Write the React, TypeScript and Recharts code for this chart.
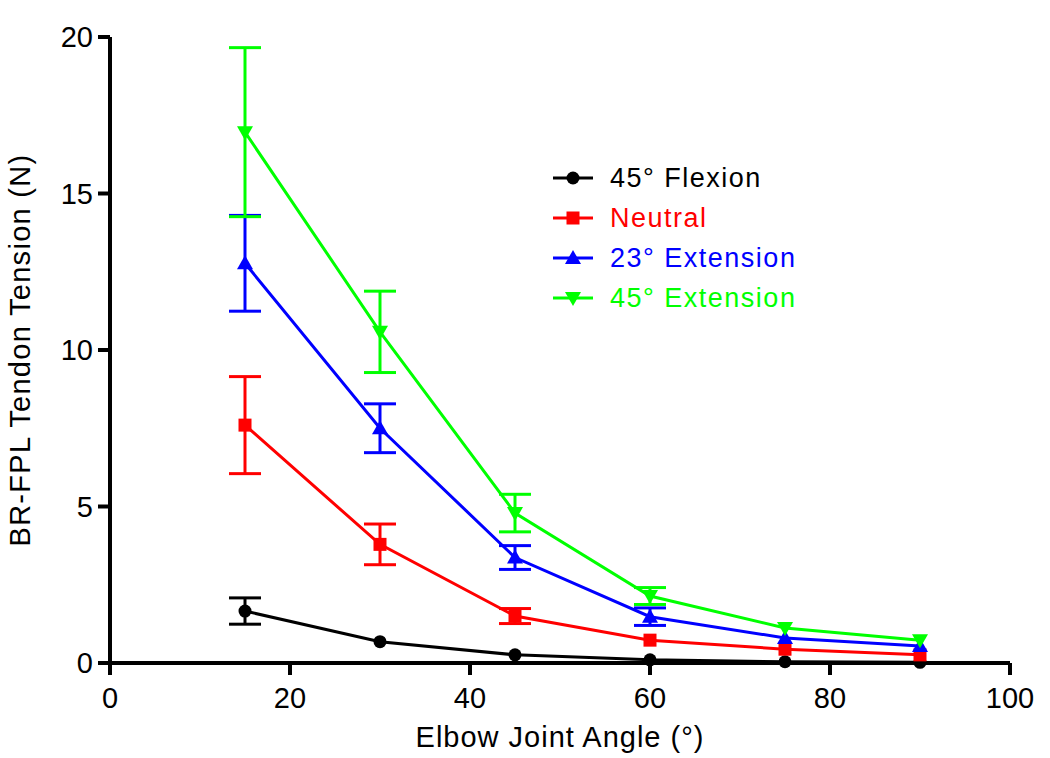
import { LineChart, Line, XAxis, YAxis, ErrorBar, Legend } from 'recharts'

const angles = [15, 30, 45, 60, 75, 90]
const flexion45 = [1.66, 0.68, 0.26, 0.1, 0.04, 0.02]
const flexion45Err = [0.42, 0, 0, 0, 0, 0]
const neutral = [7.6, 3.79, 1.5, 0.73, 0.44, 0.26]
const neutralErr = [1.55, 0.65, 0.24, 0, 0, 0]
const extension23 = [12.77, 7.5, 3.37, 1.48, 0.8, 0.54]
const extension23Err = [1.53, 0.78, 0.38, 0.28, 0, 0]
const extension45 = [16.96, 10.58, 4.79, 2.14, 1.12, 0.73]
const extension45Err = [2.7, 1.3, 0.6, 0.27, 0, 0]
const xTicks = [0, 20, 40, 60, 80, 100]
const yTicks = [0, 5, 10, 15, 20]

const FONT = 'Arial, "Liberation Sans", Helvetica, sans-serif'

type Shape = 'circle' | 'square' | 'up' | 'down'

const series: { key: string; name: string; color: string; shape: Shape }[] = [
  { key: 'flex45', name: '45° Flexion', color: '#000000', shape: 'circle' },
  { key: 'neutral', name: 'Neutral', color: '#ff0000', shape: 'square' },
  { key: 'ext23', name: '23° Extension', color: '#0000ff', shape: 'up' },
  { key: 'ext45', name: '45° Extension', color: '#00ff00', shape: 'down' },
]

const data = angles.map((a, i) => ({
  angle: a,
  flex45: flexion45[i],
  flex45Err: flexion45Err[i],
  neutral: neutral[i],
  neutralErr: neutralErr[i],
  ext23: extension23[i],
  ext23Err: extension23Err[i],
  ext45: extension45[i],
  ext45Err: extension45Err[i],
}))

function Marker({ cx, cy, shape, color }: { cx: number; cy: number; shape: Shape; color: string }) {
  if (shape === 'circle') return <circle cx={cx} cy={cy} r={6.5} fill={color} />
  if (shape === 'square') return <rect x={cx - 6.5} y={cy - 6.5} width={13} height={13} fill={color} />
  if (shape === 'up')
    return <polygon points={`${cx},${cy - 8} ${cx - 8},${cy + 6} ${cx + 8},${cy + 6}`} fill={color} />
  return <polygon points={`${cx},${cy + 8} ${cx - 8},${cy - 6} ${cx + 8},${cy - 6}`} fill={color} />
}

function LegendBox() {
  return (
    <div style={{ fontFamily: FONT }}>
      {series.map((s) => (
        <div key={s.key} style={{ display: 'flex', alignItems: 'center', height: 40 }}>
          <svg width={40} height={20}>
            <line x1={0} x2={40} y1={10} y2={10} stroke={s.color} strokeWidth={3} />
            <Marker cx={20} cy={10} shape={s.shape} color={s.color} />
          </svg>
          <span style={{ marginLeft: 17, color: s.color, fontSize: 27, letterSpacing: 1.5 }}>{s.name}</span>
        </div>
      ))}
    </div>
  )
}

export default function App() {
  return (
    <div style={{ position: 'fixed', left: 0, top: 0, background: '#fff' }}>
      <LineChart width={1050} height={758} data={data} margin={{ top: 37, right: 40, bottom: 0, left: 0 }}>
        <XAxis
          dataKey="angle"
          type="number"
          domain={[0, 100]}
          ticks={xTicks}
          height={95}
          tickSize={12}
          tickMargin={12}
          axisLine={{ stroke: '#000', strokeWidth: 4 }}
          tickLine={{ stroke: '#000', strokeWidth: 4 }}
          tick={{ fill: '#000', fontSize: 29, fontFamily: FONT }}
          label={{
            value: 'Elbow Joint Angle (°)',
            position: 'insideBottom',
            offset: 11,
            fill: '#000',
            fontSize: 29,
            fontFamily: FONT,
            style: { letterSpacing: 1 },
          }}
        />
        <YAxis
          type="number"
          domain={[0, 20]}
          ticks={yTicks}
          width={110}
          tickSize={12}
          tickMargin={5}
          axisLine={{ stroke: '#000', strokeWidth: 4 }}
          tickLine={{ stroke: '#000', strokeWidth: 4 }}
          tick={{ fill: '#000', fontSize: 29, fontFamily: FONT }}
          label={{
            value: 'BR-FPL Tendon Tension (N)',
            angle: -90,
            position: 'insideLeft',
            offset: 20,
            fill: '#000',
            fontSize: 29,
            fontFamily: FONT,
            style: { textAnchor: 'middle', letterSpacing: 1.3 },
          }}
        />
        <Legend
          layout="vertical"
          align="center"
          verticalAlign="middle"
          content={<LegendBox />}
          wrapperStyle={{ left: 553, top: 158, width: 320 }}
        />
        {series.map((s) => (
          <Line
            key={s.key}
            dataKey={s.key}
            name={s.name}
            type="linear"
            stroke={s.color}
            strokeWidth={3}
            isAnimationActive={false}
            dot={(p: any) => <Marker key={`${s.key}-${p.index}`} cx={p.cx} cy={p.cy} shape={s.shape} color={s.color} />}
            activeDot={false}
          >
            <ErrorBar dataKey={`${s.key}Err`} direction="y" width={16} strokeWidth={3} stroke={s.color} isAnimationActive={false} />
          </Line>
        ))}
      </LineChart>
    </div>
  )
}
